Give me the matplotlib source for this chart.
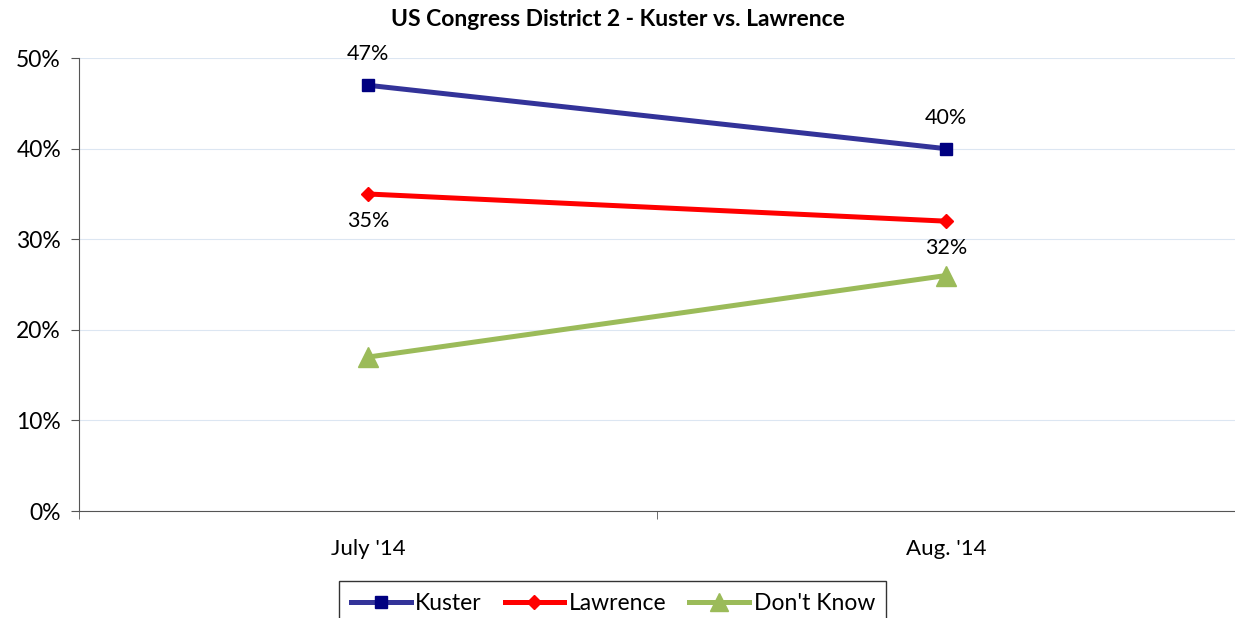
import matplotlib.pyplot as plt
from matplotlib.ticker import FixedLocator, PercentFormatter

plt.rcParams['font.family'] = ['Lato', 'DejaVu Sans']

# data
months = ["July '14", "Aug. '14"]
kuster = [47, 40]
lawrence = [35, 32]
dont_know = [17, 26]

x = [0.5, 1.5]

fig = plt.figure(figsize=(12.35, 6.18), dpi=100, facecolor='w')
ax = fig.add_axes([0.064, 0.173, 0.936, 0.733])

ax.plot(x, kuster, color='#333399', lw=3.6, marker='s', ms=9,
        mfc='#000080', mec='#000080', label='Kuster', zorder=3)
ax.plot(x, lawrence, color='#ff0000', lw=3.6, marker='D', ms=7.5,
        mfc='#ff0000', mec='#ff0000', label='Lawrence', zorder=3)
ax.plot(x, dont_know, color='#9bbb59', lw=3.6, marker='^', ms=14,
        mfc='#9bbb59', mec='#9bbb59', label="Don't Know", zorder=3)

# data labels: Kuster above, Lawrence below
for xi, v in zip(x, kuster):
    ax.annotate(f'{v}%', (xi, v), xytext=(0, 15), textcoords='offset points',
                ha='center', va='bottom', fontsize=15.5)
for xi, v in zip(x, lawrence):
    ax.annotate(f'{v}%', (xi, v), xytext=(0, -12), textcoords='offset points',
                ha='center', va='top', fontsize=15.5)

ax.set_xlim(0, 2)
ax.set_ylim(0, 50)
ax.yaxis.set_major_locator(FixedLocator([0, 10, 20, 30, 40, 50]))
ax.yaxis.set_major_formatter(PercentFormatter(decimals=0))
ax.grid(axis='y', color='#dce6f2', lw=0.8)
ax.set_axisbelow(True)

ax.set_xticks(x)
ax.set_xticklabels(months)
ax.set_xticks([0, 1, 2], minor=True)
ax.tick_params(axis='x', which='major', length=0, pad=20, labelsize=16)
ax.tick_params(axis='x', which='minor', length=6, direction='out', color='#555555')
ax.tick_params(axis='y', length=6, direction='out', labelsize=16.5, pad=7, color='#555555')

for spine in ('top', 'right'):
    ax.spines[spine].set_visible(False)
ax.spines['left'].set_color('#555555')
ax.spines['bottom'].set_color('#555555')

fig.text(0.5, 0.968, 'US Congress District 2 - Kuster vs. Lawrence',
         ha='center', va='center', fontsize=16.5, fontweight='bold')

legend = fig.legend(loc='upper center', ncol=3,
                    fontsize=16.5, frameon=True, fancybox=False, edgecolor='black',
                    handlelength=2.6, columnspacing=1.0, handletextpad=0.2,
                    borderpad=0.5, markerscale=0.9)
legend.get_frame().set_linewidth(1.0)
legend.set_bbox_to_anchor((0.4963, 1 - 570 / 618), transform=fig.transFigure)

fig.savefig('out.png', dpi=100)
